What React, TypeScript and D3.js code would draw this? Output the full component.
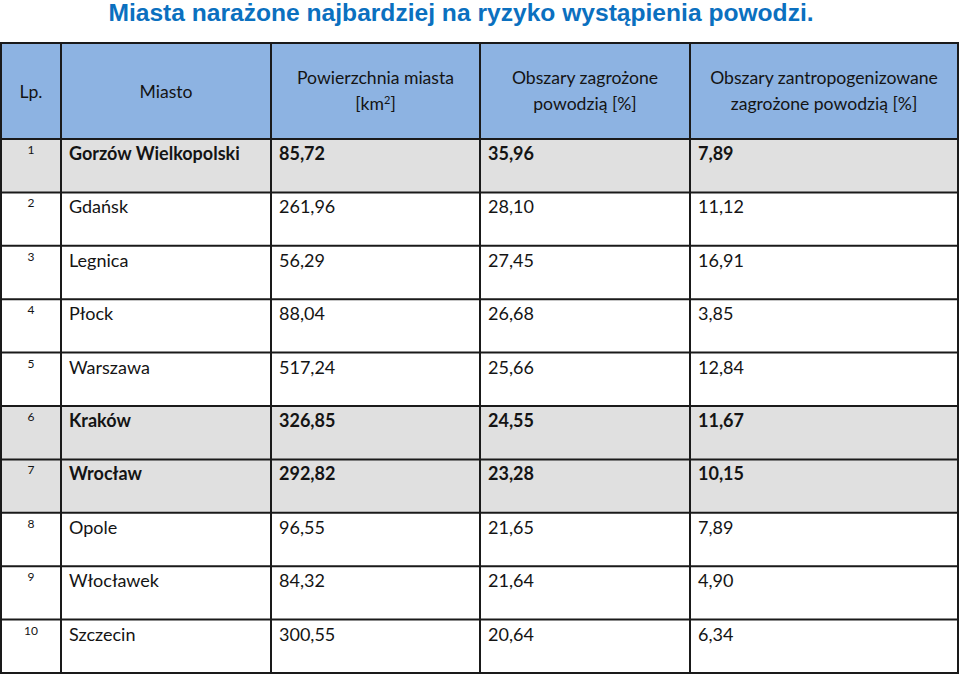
import React from 'react';
import * as d3 from 'd3';

const width = 960,
      height = 675;

const title = 'Miasta narażone najbardziej na ryzyko wystąpienia powodzi.';

const cities = ['Gorzów Wielkopolski', 'Gdańsk', 'Legnica', 'Płock', 'Warszawa', 'Kraków', 'Wrocław', 'Opole', 'Włocławek', 'Szczecin'];
const area = ['85,72', '261,96', '56,29', '88,04', '517,24', '326,85', '292,82', '96,55', '84,32', '300,55'];
const floodShare = ['35,96', '28,10', '27,45', '26,68', '25,66', '24,55', '23,28', '21,65', '21,64', '20,64'];
const urbanShare = ['7,89', '11,12', '16,91', '3,85', '12,84', '11,67', '10,15', '7,89', '4,90', '6,34'];
const highlighted = ['Gorzów Wielkopolski', 'Kraków', 'Wrocław'];

// column edges in px
const colEdges = [1, 61, 271, 480, 690, 958];
const top = 43, headBottom = 139, bottom = 673;

const font = 'Lato, "Noto Sans", sans-serif';
const ink = '#141414';

const App = () => {
    const rows = d3.range(cities.length);
    const y = d3.scaleBand<number>().domain(rows).range([headBottom, bottom]);
    const colMid = (i: number) => (colEdges[i] + colEdges[i + 1]) / 2;

    return (
        <svg width={width} height={height} viewBox={`0 0 ${width} ${height}`}
             style={{ position: 'absolute', left: 0, top: 0, background: '#fff' }}>
            <text x={461} y={21} textAnchor="middle" fill="#0b70bf"
                  style={{ font: 'bold 24.6px "Liberation Sans", Arial, sans-serif' }}>{title}</text>

            {/* header */}
            <rect x={colEdges[0]} y={top} width={colEdges[5] - colEdges[0]} height={headBottom - top} fill="#8db3e2" />
            <g fill={ink} style={{ font: `17.6px ${font}` }} textAnchor="middle">
                <text x={colMid(0)} y={98}>Lp.</text>
                <text x={colMid(1)} y={98}>Miasto</text>
                <text x={colMid(2)} y={84}>Powierzchnia miasta</text>
                <text x={colMid(2)} y={110}>[km<tspan dy={-6} style={{ fontSize: 11 }}>2</tspan><tspan dy={6}>]</tspan></text>
                <text x={colMid(3)} y={84}>Obszary zagrożone</text>
                <text x={colMid(3)} y={110}>powodzią [%]</text>
                <text x={colMid(4)} y={84}>Obszary zantropogenizowane</text>
                <text x={colMid(4)} y={110}>zagrożone powodzią [%]</text>
            </g>

            {/* body */}
            {rows.map(i => {
                const bold = highlighted.includes(cities[i]);
                const y0 = y(i)!;
                return (
                    <g key={i}>
                        <rect x={colEdges[0]} y={y0} width={colEdges[5] - colEdges[0]} height={y.bandwidth()}
                              fill={bold ? '#e0e0e0' : '#ffffff'} />
                        <text x={colMid(0)} y={y0 + 15} textAnchor="middle" fill={ink}
                              style={{ font: `12px ${font}` }}>{i + 1}</text>
                        {[cities[i], area[i], floodShare[i], urbanShare[i]].map((t, c) => (
                            <text key={c} x={colEdges[c + 1] + 8} y={y0 + 21} fill={ink}
                                  style={{ font: `${bold ? 'bold ' : ''}18px ${font}` }}>{t}</text>
                        ))}
                    </g>
                );
            })}

            {/* grid lines */}
            <g stroke="#1a1a1a" strokeWidth={2}>
                {colEdges.map((x, i) => (
                    <line key={'c' + i} x1={x} x2={x} y1={top} y2={bottom} />
                ))}
                {[top, ...rows.map(i => y(i)!), bottom].map((yy, i) => (
                    <line key={'r' + i} x1={colEdges[0] - 1} x2={colEdges[5] + 1} y1={yy} y2={yy} />
                ))}
            </g>
        </svg>
    );
};

export default App;
